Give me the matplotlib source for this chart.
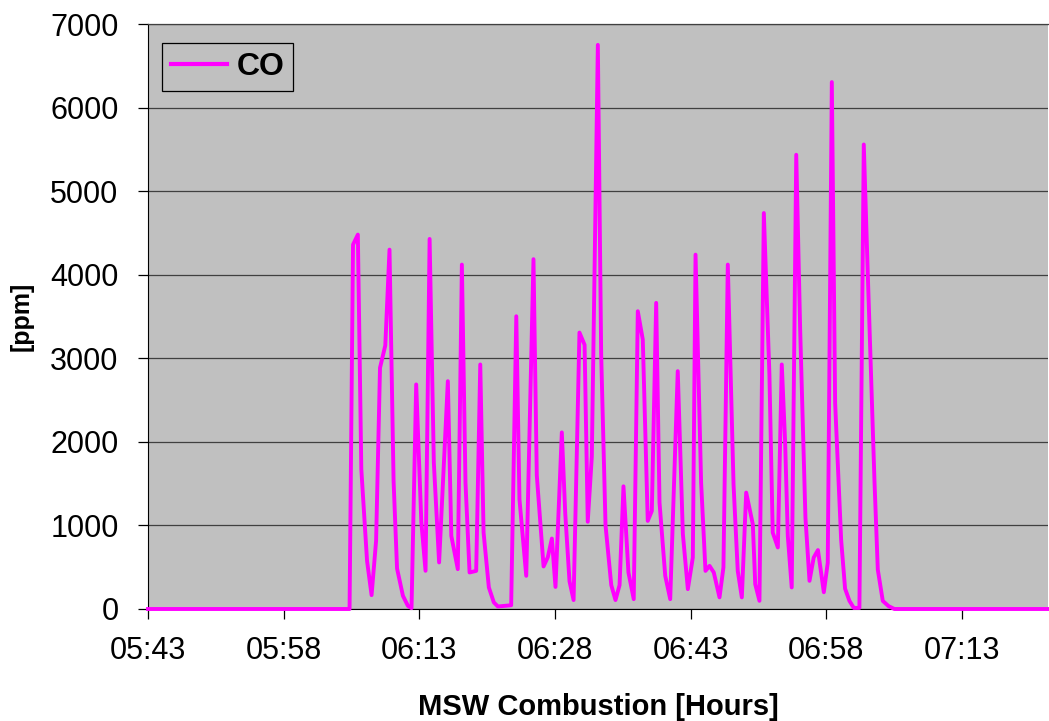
import matplotlib
matplotlib.use("Agg")
import matplotlib.pyplot as plt
import matplotlib.dates as mdates
from matplotlib.ticker import FixedLocator
import pandas as pd

# CO concentration during MSW combustion (logger time, ppm)
times = [
    "05:43:00", "06:05:17", "06:05:40", "06:06:12", "06:06:35", "06:07:13",
    "06:07:43", "06:08:13", "06:08:39", "06:09:14", "06:09:42", "06:10:09",
    "06:10:32", "06:11:11", "06:11:44", "06:12:08", "06:12:39", "06:13:13",
    "06:13:41", "06:14:08", "06:14:36", "06:15:11", "06:16:09", "06:16:32",
    "06:17:15", "06:17:42", "06:18:06", "06:18:33", "06:19:17", "06:19:44",
    "06:20:06", "06:20:41", "06:21:14", "06:21:41", "06:23:09", "06:23:43",
    "06:24:04", "06:24:49", "06:25:37", "06:25:59", "06:26:44", "06:27:12",
    "06:27:39", "06:28:03", "06:28:45", "06:29:08", "06:29:36", "06:30:03",
    "06:30:42", "06:31:16", "06:31:37", "06:32:04", "06:32:44", "06:33:06",
    "06:33:35", "06:34:13", "06:34:41", "06:35:08", "06:35:34", "06:36:07",
    "06:36:42", "06:37:09", "06:37:42", "06:38:15", "06:38:42", "06:39:11",
    "06:39:33", "06:40:11", "06:40:44", "06:41:34", "06:42:08", "06:42:41",
    "06:43:14", "06:43:32", "06:44:09", "06:44:38", "06:45:05", "06:45:33",
    "06:46:11", "06:46:37", "06:47:06", "06:47:44", "06:48:12", "06:48:39",
    "06:49:08", "06:49:52", "06:50:08", "06:50:36", "06:51:05", "06:51:42",
    "06:52:04", "06:52:38", "06:53:04", "06:53:26", "06:53:44", "06:54:10",
    "06:54:40", "06:55:06", "06:55:41", "06:56:08", "06:56:36", "06:57:04",
    "06:57:43", "06:58:09", "06:58:36", "06:58:58", "06:59:38", "07:00:04",
    "07:00:33", "07:01:02", "07:01:39", "07:02:08", "07:02:34", "07:03:19",
    "07:03:41", "07:04:14", "07:04:52", "07:05:31", "07:22:30",
]
co_ppm = [
    0, 0, 4360, 4480, 1672, 576,
    166, 815, 2886, 3153, 4300, 1532,
    485, 158, 38, 10, 2687, 1042,
    457, 4428, 1751, 557, 2726, 875,
    477, 4121, 1512, 437, 456, 2926,
    915, 258, 79, 30, 45, 3503,
    1313, 397, 4186, 1600, 509, 620,
    843, 264, 2113, 1134, 331, 107,
    3308, 3161, 1044, 1823, 6750, 3050,
    999, 286, 107, 286, 1468, 437,
    118, 3563, 3225, 1054, 1173, 3663,
    1274, 397, 118, 2846, 896, 238,
    616, 4240, 1512, 456, 516, 437,
    139, 497, 4121, 1492, 456, 139,
    1393, 1014, 297, 98, 4738, 2806,
    915, 736, 2926, 2010, 875, 258,
    5435, 3345, 1094, 337, 616, 705,
    201, 553, 6305, 2464, 823, 243,
    97, 13, 13, 5558, 4042, 1529,
    471, 97, 35, 0, 0,
]
tick_labels = ["05:43", "05:58", "06:13", "06:28", "06:43", "06:58", "07:13"]
y_ticks = [0, 1000, 2000, 3000, 4000, 5000, 6000, 7000]

day = "2000-01-01 "
t = pd.to_datetime([day + s for s in times])
tick_pos = mdates.date2num(pd.to_datetime([day + s for s in tick_labels]))

plt.rcParams["font.family"] = ["Liberation Sans", "DejaVu Sans"]

fig = plt.figure(figsize=(10.49, 7.21), dpi=100)
ax = fig.add_axes([148 / 1049, 1 - 609 / 721, 900 / 1049, 585 / 721])
ax.set_facecolor("#C0C0C0")

ax.plot(mdates.date2num(t), co_ppm, color="#FF00FF", lw=2.8,
        solid_joinstyle="round", label="CO", zorder=3, clip_on=False)

ax.set_xlim(mdates.date2num(pd.Timestamp(day + "05:43:00")),
            mdates.date2num(pd.Timestamp(day + "07:22:30")))
ax.set_ylim(0, 7000)
ax.xaxis.set_major_locator(FixedLocator(tick_pos))
ax.set_xticklabels(tick_labels)
ax.set_yticks(y_ticks)

ax.grid(axis="y", color="#404040", lw=0.9)
ax.set_axisbelow(True)
ax.spines["right"].set_visible(False)
ax.spines["top"].set_color("#404040")
ax.spines["top"].set_linewidth(0.9)
ax.spines["left"].set_color("black")
ax.spines["bottom"].set_color("black")

ax.tick_params(axis="both", direction="out", length=7.2, width=0.9,
               labelsize=22, colors="black")
ax.tick_params(axis="y", pad=14)
ax.tick_params(axis="x", pad=12)

ax.set_xlabel("MSW Combustion [Hours]", fontsize=21, fontweight="bold",
              labelpad=20)
ax.set_ylabel("[ppm]", fontsize=18, fontweight="bold", labelpad=12)

leg = ax.legend(loc="upper left", bbox_to_anchor=(0.0156, 0.9675),
                borderaxespad=0, fancybox=False, frameon=True,
                facecolor="#C0C0C0", edgecolor="black", framealpha=1,
                handlelength=1.75, handletextpad=0.3, borderpad=0.28,
                prop={"size": 23, "weight": "bold"})
leg.get_frame().set_linewidth(0.9)
leg.get_lines()[0].set_linewidth(3)

fig.savefig("out.png", dpi=100)
